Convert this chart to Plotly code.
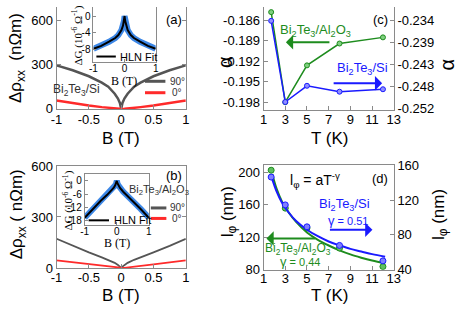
import plotly.graph_objects as go

W, H = 463, 315
def X(px): return px / W
def Y(py): return 1 - py / H

# ---------------- data ----------------
B_vals = [-1, -0.75, -0.5, -0.3, -0.2, -0.1, -0.05, -0.02, 0, 0.02, 0.05, 0.1, 0.2, 0.3, 0.5, 0.75, 1]
rho_a_90 = [295, 262, 221, 178, 150, 103, 70, 40, 0, 40, 70, 103, 150, 178, 221, 262, 295]
rho_a_0 = [57, 38, 23, 12, 7, 2, 0.6, 0.1, 0, 0.1, 0.6, 2, 7, 12, 23, 38, 57]
rho_b_90 = [172, 130, 92, 62, 48, 30, 18, 8, 0, 8, 18, 30, 48, 62, 92, 130, 172]
rho_b_0 = [45, 33, 21, 12, 7, 3, 1, 0.3, 0, 0.3, 1, 3, 7, 12, 21, 33, 45]
dG_a = [-7.9, -7.2, -6.2, -5.3, -4.6, -3.4, -2.3, -1.2, 0, -1.2, -2.3, -3.4, -4.6, -5.3, -6.2, -7.2, -7.9]
dG_b = [-16.7, -12.8, -9.0, -6.3, -4.9, -3.2, -2.0, -1.0, 0, -1.0, -2.0, -3.2, -4.9, -6.3, -9.0, -12.8, -16.7]

T_vals = [1.7, 3, 5, 8, 12]
alpha_al2o3 = [-0.1848, -0.1980, -0.1926, -0.1894, -0.1885]
alpha_si = [-0.2341, -0.2506, -0.2473, -0.2485, -0.2480]

lphi_al2o3 = [202.7, 156, 131.5, 106.8, 84]
lphi_si = [146.3, 114.4, 89.3, 68, 50.3]
T_fit = [1.8, 2.2, 2.7, 3.3, 4, 5, 6, 7, 8, 9, 10, 11, 12.2]
fit_al2o3 = [198, 180, 164, 151, 139, 126, 117, 110, 104, 99, 95, 91.5, 88]
fit_si = [144, 130, 117, 106, 96, 86, 78.5, 72.5, 68, 64, 61, 58, 55]

B_ticks = [-1, -0.5, 0, 0.5, 1]
B_ticktext = ["-1", "-0.5", "0", "0.5", "1"]
B_inset_ticks = [-1, 0, 1]
B_inset_ticktext = ["-1", "0", "1"]
T_ticks = [1, 3, 5, 7, 9, 11, 13]
alpha_left_ticks = [-0.186, -0.189, -0.192, -0.195, -0.198]
alpha_right_ticks = [-0.234, -0.2385, -0.243, -0.2475, -0.252]
alpha_right_text = ["-0.234", "-0.239", "-0.243", "-0.248", "-0.252"]

SANS = "Liberation Sans, Arial, sans-serif"
SERIF = "Liberation Serif, Times New Roman, serif"
GRAY = "#555555"
RED = "#ff2a2a"
GREEN = "#1e8c1e"
BLUE = "#1a1aff"
AX = "#8a8a8a"

fig = go.Figure()

# panel a
fig.add_trace(go.Scatter(x=B_vals, y=rho_a_90, mode="lines", line=dict(color=GRAY, width=2.5), xaxis="x", yaxis="y"))
fig.add_trace(go.Scatter(x=B_vals, y=rho_a_0, mode="lines", line=dict(color=RED, width=2.5), xaxis="x", yaxis="y"))
# inset a
fig.add_trace(go.Scatter(x=B_vals, y=dG_a, mode="lines", line=dict(color="rgb(60,135,230)", width=6), xaxis="x2", yaxis="y2"))
fig.add_trace(go.Scatter(x=B_vals, y=dG_a, mode="lines", line=dict(color="black", width=2), xaxis="x2", yaxis="y2"))
# panel b
fig.add_trace(go.Scatter(x=B_vals, y=rho_b_90, mode="lines", line=dict(color=GRAY, width=1.8), xaxis="x3", yaxis="y3"))
fig.add_trace(go.Scatter(x=B_vals, y=rho_b_0, mode="lines", line=dict(color=RED, width=1.8), xaxis="x3", yaxis="y3"))
# inset b
fig.add_trace(go.Scatter(x=B_vals, y=dG_b, mode="lines", line=dict(color="rgb(60,135,230)", width=6), xaxis="x4", yaxis="y4"))
fig.add_trace(go.Scatter(x=B_vals, y=dG_b, mode="lines", line=dict(color="black", width=2), xaxis="x4", yaxis="y4"))
# panel c
fig.add_trace(go.Scatter(x=T_vals, y=alpha_al2o3, mode="lines+markers", line=dict(color=GREEN, width=1.5),
                         marker=dict(size=5, color="#7fcf7f", line=dict(color=GREEN, width=1)), xaxis="x5", yaxis="y5"))
fig.add_trace(go.Scatter(x=T_vals, y=alpha_si, mode="lines+markers", line=dict(color=BLUE, width=1.5),
                         marker=dict(size=5, color="#8f8fff", line=dict(color=BLUE, width=1)), xaxis="x5", yaxis="y6"))
# panel d
fig.add_trace(go.Scatter(x=T_fit, y=fit_al2o3, mode="lines", line=dict(color=GREEN, width=2, shape="spline"), xaxis="x6", yaxis="y7"))
fig.add_trace(go.Scatter(x=T_vals, y=lphi_al2o3, mode="markers",
                         marker=dict(size=6, color="#5fbf5f", line=dict(color=GREEN, width=1)), xaxis="x6", yaxis="y7"))
fig.add_trace(go.Scatter(x=T_fit, y=fit_si, mode="lines", line=dict(color=BLUE, width=2, shape="spline"), xaxis="x6", yaxis="y8"))
fig.add_trace(go.Scatter(x=T_vals, y=lphi_si, mode="markers",
                         marker=dict(size=6, color="#7f7fff", line=dict(color=BLUE, width=1)), xaxis="x6", yaxis="y8"))

def axis(**kw):
    base = dict(showgrid=False, zeroline=False, showline=True, linecolor=AX, linewidth=1,
                ticks="inside", ticklen=4, tickcolor=AX, tickfont=dict(family=SANS, size=13, color="black"))
    base.update(kw)
    return base

inset_font = dict(family=SANS, size=10, color="black")

fig.update_layout(
    width=W, height=H, margin=dict(l=0, r=0, t=0, b=0),
    paper_bgcolor="white", plot_bgcolor="white", showlegend=False,
    xaxis=axis(domain=[X(52), X(185)], anchor="y", range=[-1, 1], tickvals=B_ticks, ticktext=B_ticktext,
               ticklabelstandoff=-2),
    yaxis=axis(domain=[Y(107), 1], anchor="x", range=[0, 690], tickvals=[0, 300, 600], mirror="ticks"),
    xaxis2=axis(domain=[X(90), X(154)], anchor="y2", range=[-1, 1], tickvals=B_inset_ticks, ticktext=B_inset_ticktext,
                tickfont=inset_font, ticklen=3, ticklabelstandoff=-3),
    yaxis2=axis(domain=[Y(58), 1], anchor="x2", range=[-11.15, 2.18], tickvals=[-8, -4, 0], ticktext=["-8", "-4", "0"],
                tickfont=inset_font, ticklen=3, mirror=True),
    xaxis3=axis(domain=[X(52), X(185)], anchor="y3", range=[-1, 1], tickvals=B_ticks, ticktext=B_ticktext, mirror=True,
                ticklabelstandoff=-3),
    yaxis3=axis(domain=[Y(274), Y(167)], anchor="x3", range=[0, 600], tickvals=[0, 300, 600], mirror="ticks"),
    xaxis4=axis(domain=[X(81), X(147)], anchor="y4", range=[-1, 1], tickvals=B_inset_ticks, ticktext=B_inset_ticktext,
                tickfont=inset_font, ticklen=3, mirror=True, ticklabelstandoff=-3),
    yaxis4=axis(domain=[Y(229), Y(175)], anchor="x4", range=[-20, 3.3], tickvals=[-18, -12, -6, 0],
                ticktext=["-18", "-12", "-6", "0"], tickfont=inset_font, ticklen=3, mirror=True),
    xaxis5=axis(domain=[X(265), X(399)], anchor="y5", range=[1, 13], tickvals=T_ticks, ticklabelstandoff=-2),
    yaxis5=axis(domain=[Y(108), 1], anchor="x5", range=[-0.19912, -0.18405], tickvals=alpha_left_ticks,
                ticktext=[f"{v:.3f}" for v in alpha_left_ticks]),
    yaxis6=axis(anchor="x5", overlaying="y5", side="right", range=[-0.25219, -0.23129],
                tickvals=alpha_right_ticks, ticktext=alpha_right_text),
    xaxis6=axis(domain=[X(265), X(399)], anchor="y7", range=[1, 13], tickvals=T_ticks, mirror=True,
                ticklabelstandoff=-3),
    yaxis7=axis(domain=[Y(276), Y(166)], anchor="x6", range=[80, 209], tickvals=[80, 120, 160, 200]),
    yaxis8=axis(anchor="x6", overlaying="y7", side="right", range=[40, 160], tickvals=[40, 80, 120, 160]),
)

ann = []
def txt(x, y, text, size=13, color="black", family=SANS, angle=0, xanchor="center"):
    ann.append(dict(x=X(x), y=Y(y), xref="paper", yref="paper", text=text, showarrow=False,
                    font=dict(family=family, size=size, color=color), textangle=angle,
                    xanchor=xanchor, yanchor="middle"))

def arrow(x0, y0, x1, y1, color):
    ann.append(dict(x=X(x1), y=Y(y1), xref="paper", yref="paper", ax=x0 - x1, ay=y0 - y1, text="",
                    showarrow=True, arrowhead=1, arrowsize=1.2, arrowwidth=2, arrowcolor=color, standoff=0))

bi_si = "Bi<sub>2</sub>Te<sub>3</sub>/Si"
bi_al = "Bi<sub>2</sub>Te<sub>3</sub>/Al<sub>2</sub>O<sub>3</sub>"

# axis titles
txt(12, 54, "Δρ<sub>xx</sub>  (nΩm)", size=17, angle=-90)
txt(118, 138, "B (T)", size=17)
txt(12, 218, "Δρ<sub>xx</sub> ( nΩm)", size=17, angle=-90)
txt(118, 303, "B (T)", size=17)
txt(226, 58, "α", size=20, angle=-90)
txt(454, 60, "α", size=20, angle=-90)
txt(333, 138, "T (K)", size=17)
txt(229, 215, "l<sub>φ</sub> (nm)", size=17, angle=-90)
txt(446, 218, "l<sub>φ</sub> (nm)", size=17, angle=-90)
txt(333, 303, "T (K)", size=17)

# inset titles
txt(74, 30, "ΔG (10<sup>-6</sup> Ω<sup>-1</sup>)", size=11, family=SERIF, angle=-90)
txt(121, 78, "B (T)", size=12, family=SERIF)
txt(64, 203, "ΔG (10<sup>-6</sup> Ω<sup>-1</sup>)", size=11, family=SERIF, angle=-90)
txt(114, 248, "B (T)", size=12, family=SERIF)
txt(115, 52, "HLN Fit", size=11, xanchor="left")
txt(109, 224, "HLN Fit", size=11, xanchor="left")

# panel labels
txt(173, 13, "(a)", size=13)
txt(173, 177, "(b)", size=13)
txt(385, 13, "(c)", size=13)
txt(385, 180, "(d)", size=13)

# panel a / b text
txt(73, 87, bi_si, size=12, color="#333333")
txt(167, 78, "90°", size=10, color="#333333", xanchor="left")
txt(169, 90, "0°", size=10, color="#333333", xanchor="left")
txt(157, 192, bi_al, size=11, color="#333333")
txt(167, 211, "90°", size=10, color="#333333", xanchor="left")
txt(169, 222, "0°", size=10, color="#333333", xanchor="left")

# panel c text
txt(318, 25, bi_al, size=13, color=GREEN)
arrow(333, 37, 288, 37, GREEN)
txt(367, 65, bi_si, size=13, color=BLUE)
arrow(337, 80, 387, 80, BLUE)

# panel d text
txt(318, 182, "l<sub>φ</sub> = aT<sup>-γ</sup>", size=14)
txt(348, 207, bi_si, size=13, color=BLUE)
txt(352, 224, "γ<span style='font-size:11px'> = 0.51</span>", size=13, color=BLUE)
arrow(333, 234, 377, 234, BLUE)
arrow(318, 243, 268, 243, GREEN)
txt(300, 254, bi_al, size=12, color=GREEN)
txt(302, 267, "γ<span style='font-size:11px'> = 0.44</span>", size=13, color=GREEN)

fig.update_layout(annotations=ann)

# legend sample lines
shapes = []
def seg(x0, y0, x1, y1, color, width):
    shapes.append(dict(type="line", xref="paper", yref="paper", x0=X(x0), y0=Y(y0), x1=X(x1), y1=Y(y1),
                       line=dict(color=color, width=width)))
seg(143, 78, 164, 78, GRAY, 3)
seg(143, 90, 164, 90, RED, 3)
seg(149, 211, 165, 211, GRAY, 3)
seg(149, 222, 165, 222, RED, 3)
seg(93, 52, 113, 52, "black", 2)
seg(85, 224, 106, 224, "black", 2)
fig.update_layout(shapes=shapes)

fig.write_html("out.html", config={"displayModeBar": False},
               post_script="document.body.style.margin='0px';document.body.style.overflow='hidden';")
